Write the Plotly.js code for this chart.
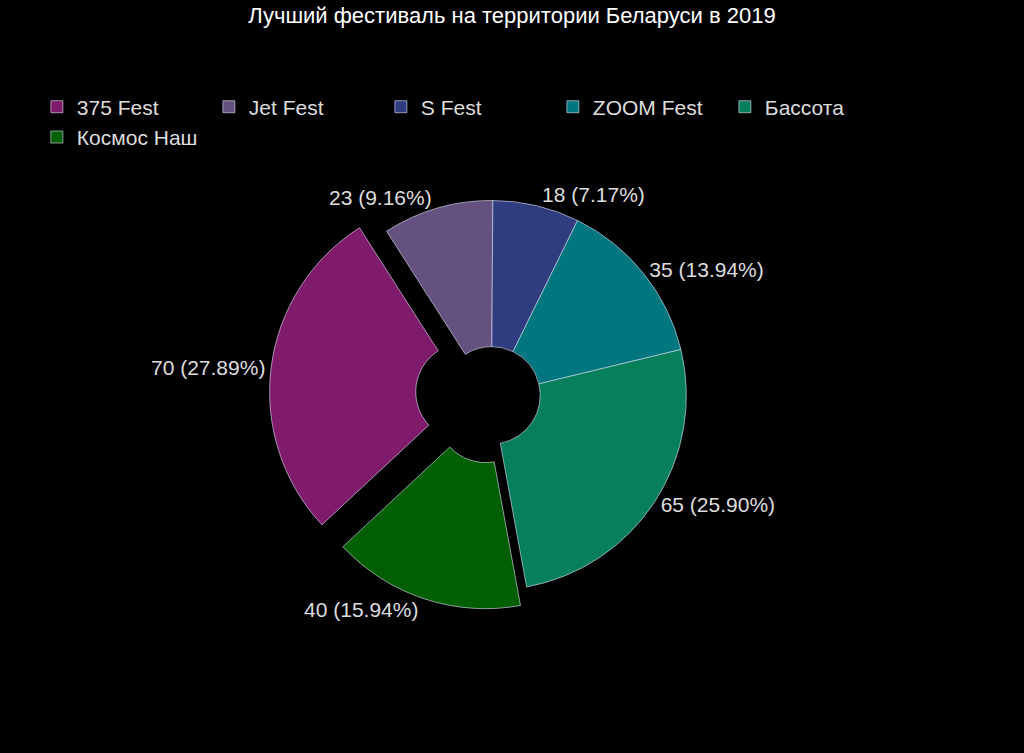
<!DOCTYPE html>
<html>
<head>
<meta charset="utf-8">
<script src="https://cdn.plot.ly/plotly-3.0.1.min.js"></script>
<style>
  html, body { margin: 0; padding: 0; background: #000; }
  #chart { width: 1024px; height: 753px; }
</style>
</head>
<body>
<div id="chart"></div>
<script>
// festival votes
var festivals = ['375 Fest', 'Jet Fest', 'S Fest', 'ZOOM Fest', 'Бассота', 'Космос Наш'];
var votes = [70, 23, 18, 35, 65, 40];
var sliceColors = ['#801b6c', '#64517f', '#2f3c7d', '#00777f', '#06805a', '#015f01'];
var pulled = [0.14, 0, 0, 0, 0, 0.1];

var trace = {
    type: 'pie',
    labels: festivals,
    values: votes,
    hole: 0.25,
    sort: false,
    direction: 'clockwise',
    rotation: -133,
    pull: pulled,
    marker: {
        colors: sliceColors,
        line: { color: 'rgba(230,230,255,0.6)', width: 1 }
    },
    texttemplate: '%{value} (%{percent:.2%})',
    textposition: 'outside',
    outsidetextfont: { color: '#dddddd', size: 21 },
    textfont: { family: 'Liberation Sans, Arial, sans-serif', size: 21, color: '#dddddd' },
    domain: { x: [0.16, 0.80], y: [0.18, 0.77] },
    hoverinfo: 'label+value+percent'
};

var layout = {
    width: 1024,
    height: 753,
    paper_bgcolor: '#000',
    plot_bgcolor: '#000',
    font: { family: 'Liberation Sans, Arial, sans-serif', color: '#dddddd' },
    title: {
        text: 'Лучший фестиваль на территории Беларуси в 2019',
        font: { size: 22, color: '#ffffff' },
        x: 0.5,
        xanchor: 'center',
        y: 0.99,
        yanchor: 'top'
    },
    showlegend: true,
    legend: {
        orientation: 'h',
        x: 0.036,
        xanchor: 'left',
        y: 0.885,
        yanchor: 'top',
        font: { size: 21, color: '#dddddd' },
        traceorder: 'normal',
        entrywidth: 127,
        entrywidthmode: 'pixels',
        itemwidth: 30
    },
    margin: { l: 0, r: 0, t: 0, b: 0 }
};

Plotly.newPlot('chart', [trace], layout, { displayModeBar: false });
</script>
</body>
</html>
